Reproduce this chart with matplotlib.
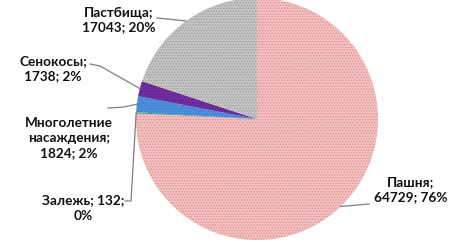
import matplotlib
matplotlib.use("Agg")
import matplotlib.pyplot as plt
import numpy as np

# data
categories = ["Пашня", "Залежь", "Многолетние\nнасаждения", "Сенокосы", "Пастбища"]
areas = [64729, 132, 1824, 1738, 17043]
percents = [76, 0, 2, 2, 20]

# styles
face_colors = ["#F2C0C0", "#3CB371", "#4F8FDD", "#7030A0", "#C4C4C4"]
hatch_colors = ["#E08E8E", "#2E9A5A", "#3A78C8", "#5A2088", "#9C9C9C"]

# layout in pixels of a 467x242 picture (y measured from top)
W, H = 467, 242
center_px = (257, 119)
radius_px = 121
label_px = [(411, 190), (83, 208), (69, 138), (53, 69), (119, 20)]
leader_px = [
    [(369, 204)],
    [(125, 201), (131, 201)],
    [(108, 108), (124, 107)],
    [(90, 64), (100, 66)],
    [(157, 18)],
]

plt.rcParams["hatch.linewidth"] = 0.6

fig = plt.figure(figsize=(W / 100, H / 100), dpi=100)
ax = fig.add_axes([0, 0, 1, 1])

cx, cy = center_px[0], H - center_px[1]
wedges, _ = ax.pie(areas, startangle=90, counterclock=False,
                   center=(cx, cy), radius=radius_px, frame=False,
                   wedgeprops=dict(linewidth=0))
for w, fc, hc in zip(wedges, face_colors, hatch_colors):
    w.set_facecolor(fc)
    w.set_edgecolor(hc)
    w.set_hatch("......")

ax.set_xlim(0, W)
ax.set_ylim(0, H)
ax.set_aspect("equal")
ax.axis("off")

for w, cat, a, p, (lx, ly), pts in zip(wedges, categories, areas, percents, label_px, leader_px):
    ang = np.deg2rad((w.theta1 + w.theta2) / 2)
    rim = (cx + radius_px * np.cos(ang), cy + radius_px * np.sin(ang))
    xs = [q[0] for q in pts] + [rim[0]]
    ys = [H - q[1] for q in pts] + [rim[1]]
    ax.plot(xs, ys, color="#7F7F7F", lw=0.9, zorder=3)
    if cat == "Залежь":
        txt = f"{cat}; {a};\n{p}%"
    else:
        txt = f"{cat};\n{a}; {p}%"
    ax.text(lx, H - ly, txt, ha="center", va="center", fontsize=9.8,
            fontweight="bold", family="Lato", color="#111111", linespacing=1.3)

fig.savefig("out.png", dpi=100)
